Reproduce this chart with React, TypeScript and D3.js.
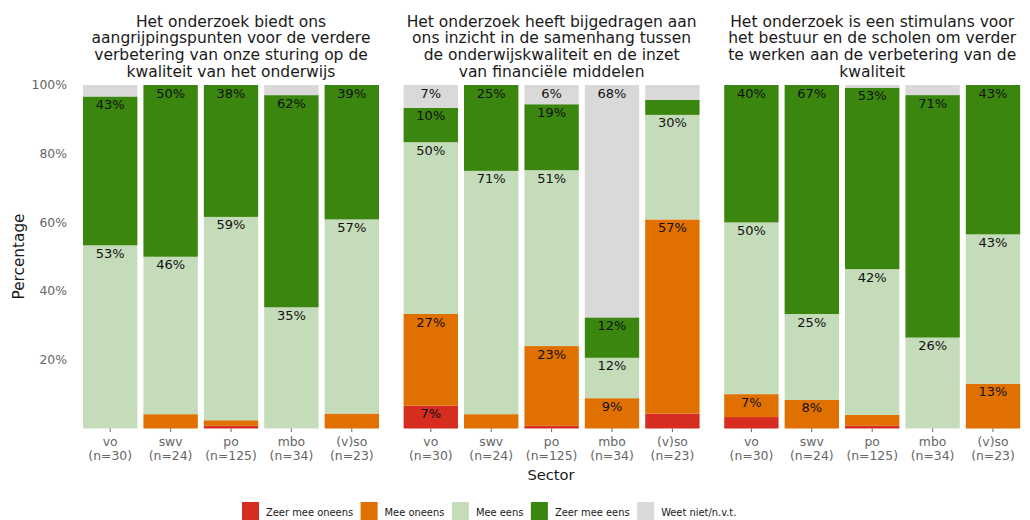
import React, { useEffect, useRef } from "react";
import * as d3 from "d3";

const sectors = ["vo", "swv", "po", "mbo", "(v)so"];
const sectorN = ["(n=30)", "(n=24)", "(n=125)", "(n=34)", "(n=23)"];
const categories = ["Zeer mee oneens", "Mee oneens", "Mee eens", "Zeer mee eens", "Weet niet/n.v.t."];
const colors = ["#D62D20", "#E07000", "#C5DCBA", "#3A860E", "#D9D9D9"];
const yTicks = [20, 40, 60, 80, 100];

const titles = [
  ["Het onderzoek biedt ons", "aangrijpingspunten voor de verdere", "verbetering van onze sturing op de", "kwaliteit van het onderwijs"],
  ["Het onderzoek heeft bijgedragen aan", "ons inzicht in de samenhang tussen", "de onderwijskwaliteit en de inzet", "van financiële middelen"],
  ["Het onderzoek is een stimulans voor", "het bestuur en de scholen om verder", "te werken aan de verbetering van de", "kwaliteit"],
];

// rows: sectors; columns: categories (percentages)
const panel1 = [
  [0, 0, 53.33, 43.33, 3.33],
  [0, 4.17, 45.83, 50, 0],
  [0.8, 1.6, 59.2, 38.4, 0],
  [0, 0, 35.29, 61.76, 2.94],
  [0, 4.35, 56.52, 39.13, 0],
];
const panel2 = [
  [6.67, 26.67, 50, 10, 6.67],
  [0, 4.17, 70.83, 25, 0],
  [0.8, 23.2, 51.2, 19.2, 5.6],
  [0, 8.82, 11.76, 11.76, 67.65],
  [4.35, 56.52, 30.43, 4.35, 4.35],
];
const panel3 = [
  [3.33, 6.67, 50, 40, 0],
  [0, 8.33, 25, 66.67, 0],
  [0.8, 3.2, 42.4, 52.8, 0.8],
  [0, 0, 26.47, 70.59, 2.94],
  [0, 13.04, 43.48, 43.48, 0],
];
const panels = [panel1, panel2, panel3];

const FONT = "'DejaVu Sans', Verdana, sans-serif";

export default function App() {
  const ref = useRef<SVGSVGElement | null>(null);

  useEffect(() => {
    const svg = d3.select(ref.current);
    svg.selectAll("*").remove();

    const y = d3.scaleLinear().domain([0, 100]).range([428.5, 85]);
    const panelLeft = 80;
    const panelWidth = 302;
    const panelStep = 320.6;

    // y axis labels
    svg.append("g")
      .selectAll("text")
      .data(yTicks)
      .join("text")
      .attr("x", 67)
      .attr("y", (d) => y(d))
      .attr("dy", "0.35em")
      .attr("text-anchor", "end")
      .attr("font-family", FONT)
      .attr("font-size", 12.4)
      .attr("fill", "#666")
      .text((d) => d + "%");

    svg.append("text")
      .attr("transform", `translate(24,256.5) rotate(-90)`)
      .attr("text-anchor", "middle")
      .attr("font-family", FONT)
      .attr("font-size", 15.3)
      .attr("fill", "#1a1a1a")
      .text("Percentage");

    panels.forEach((data, pi) => {
      const x0 = panelLeft + pi * panelStep;
      const x = d3.scaleBand<string>().domain(sectors).range([x0, x0 + panelWidth]).paddingInner(0.1).paddingOuter(0.05);
      const g = svg.append("g");

      // title
      const cx = x0 + panelWidth / 2;
      g.append("g")
        .selectAll("text")
        .data(titles[pi])
        .join("text")
        .attr("x", cx)
        .attr("y", (_, i) => 26.5 + i * 16.7)
        .attr("text-anchor", "middle")
        .attr("font-family", FONT)
        .attr("font-size", 15.5)
        .attr("fill", "#1a1a1a")
        .text((d) => d);

      sectors.forEach((s, si) => {
        const row = data[si];
        let cum = 0;
        const segs = row.map((v, ci) => {
          const seg = { v, ci, y0: cum, y1: cum + v };
          cum += v;
          return seg;
        });
        const bx = x(s)!;
        const bw = x.bandwidth();
        g.append("g")
          .selectAll("rect")
          .data(segs.filter((d) => d.v > 0))
          .join("rect")
          .attr("x", bx)
          .attr("width", bw)
          .attr("y", (d) => y(d.y1))
          .attr("height", (d) => y(d.y0) - y(d.y1))
          .attr("fill", (d) => colors[d.ci]);

        g.append("g")
          .selectAll("text")
          .data(segs.filter((d) => d.v > 5))
          .join("text")
          .attr("x", bx + bw / 2)
          .attr("y", (d) => y(d.y1) + 8)
          .attr("dy", "0.35em")
          .attr("text-anchor", "middle")
          .attr("font-family", FONT)
          .attr("font-size", 13)
          .attr("fill", "#111")
          .text((d) => Math.round(d.v) + "%");

        // tick
        g.append("line")
          .attr("x1", bx + bw / 2)
          .attr("x2", bx + bw / 2)
          .attr("y1", 428.5)
          .attr("y2", 432)
          .attr("stroke", "#444")
          .attr("stroke-width", 0.8);

        g.append("text")
          .attr("x", bx + bw / 2)
          .attr("y", 446)
          .attr("text-anchor", "middle")
          .attr("font-family", FONT)
          .attr("font-size", 12.4)
          .attr("fill", "#666")
          .text(s);
        g.append("text")
          .attr("x", bx + bw / 2)
          .attr("y", 460)
          .attr("text-anchor", "middle")
          .attr("font-family", FONT)
          .attr("font-size", 12.4)
          .attr("fill", "#666")
          .text(sectorN[si]);
      });
    });

    svg.append("text")
      .attr("x", 551)
      .attr("y", 480)
      .attr("text-anchor", "middle")
      .attr("font-family", FONT)
      .attr("font-size", 14.7)
      .attr("fill", "#1a1a1a")
      .text("Sector");

    // legend
    const lg = svg.append("g");
    let lx = 242;
    categories.forEach((c, i) => {
      lg.append("rect").attr("x", lx).attr("y", 502).attr("width", 17).attr("height", 18).attr("fill", colors[i]);
      const t = lg.append("text")
        .attr("x", lx + 24)
        .attr("y", 516)
        .attr("font-family", "'DejaVu Sans Condensed', 'DejaVu Sans', sans-serif")
        .attr("font-size", 11)
        .attr("fill", "#1a1a1a")
        .text(c);
      const w = (t.node() as SVGTextElement).getComputedTextLength();
      lx = lx + 24 + w + 7.5;
    });
  }, []);

  return (
    <svg
      ref={ref}
      width={1030}
      height={520}
      style={{ position: "absolute", left: 0, top: 0, background: "#fff" }}
    />
  );
}
